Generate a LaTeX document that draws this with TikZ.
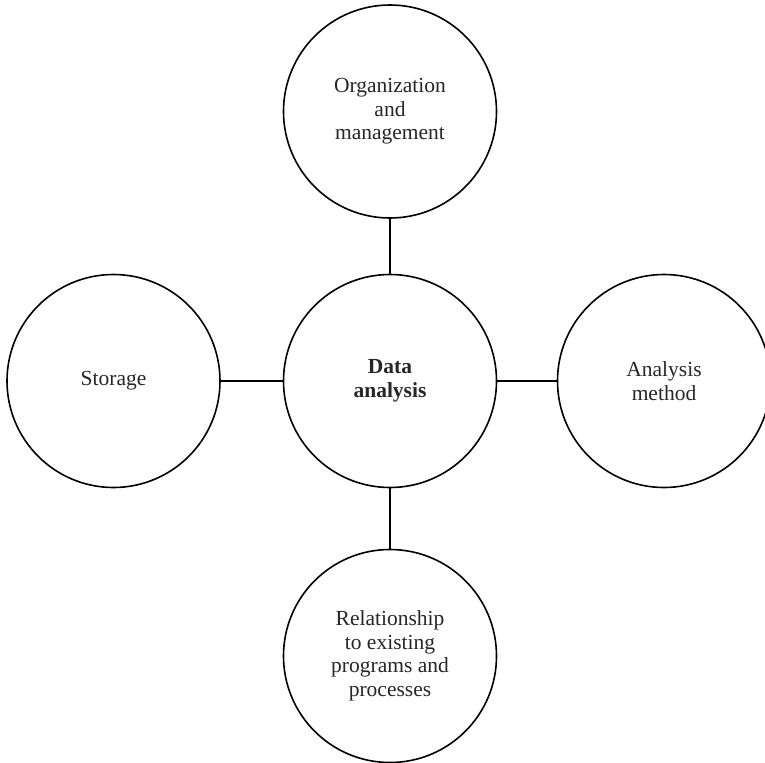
\documentclass[tikz,border=0pt]{standalone}
\usepackage{fontspec}
\setmainfont{Liberation Serif}
\begin{document}
\begin{tikzpicture}[x=1bp,y=-1bp,
  bubble/.style={circle, draw, line width=1.6bp, minimum size=213bp, inner sep=0pt,
    align=center, font=\fontsize{21.5bp}{23.5bp}\selectfont, text=black!85},
  link/.style={line width=1.6bp}]
\useasboundingbox (0,0) rectangle (765,763);
\node[bubble] (hub) at (390,381) {\textbf{Data}\\\textbf{analysis}};
\node[bubble] (org) at (390,111.5) {Organization\\and\\management};
\node[bubble] (store) at (113.5,381) {Storage};
\node[bubble] (method) at (664,381) {Analysis\\method};
\node[bubble] (rel) at (390,656) {Relationship\\to existing\\programs and\\processes};
\draw[link] (org.south) -- (hub.north);
\draw[link] (store.east) -- (hub.west);
\draw[link] (hub.east) -- (method.west);
\draw[link] (hub.south) -- (rel.north);
\end{tikzpicture}
\end{document}
